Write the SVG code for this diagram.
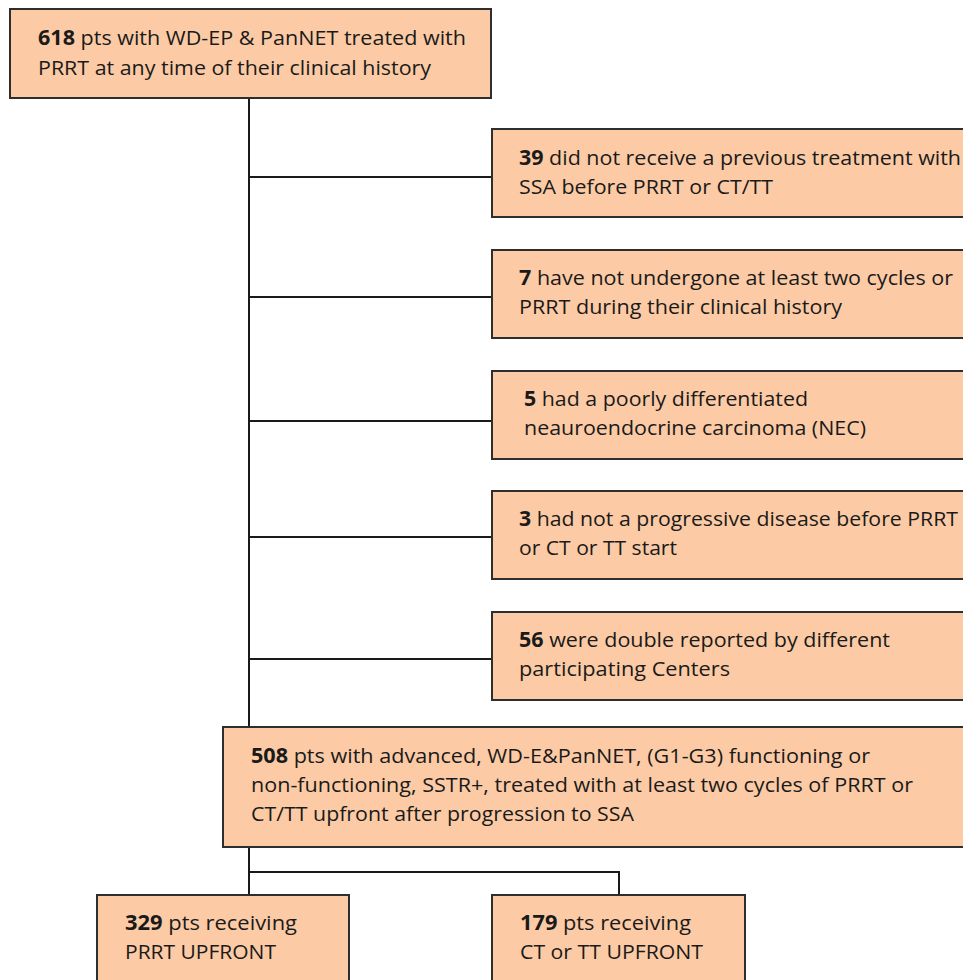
<svg xmlns="http://www.w3.org/2000/svg" width="963" height="980" viewBox="0 0 963 980">
<style>
.box{fill:#FCCBA5;stroke:#2e2e2e;stroke-width:2}
.t{font-family:"Open Sans","Noto Sans","Liberation Sans",sans-serif;font-size:20.5px;fill:#1a1a1a}
.b{font-weight:bold}
.c{fill:none;stroke:#1a1a1a;stroke-width:2}
</style>
<rect width="963" height="980" fill="#fff"/>
<g id="connectors">
<path class="c" d="M249 98V727M249 177H492M249 297H492M249 421H492M249 537H492M249 659H492"/>
<path class="c" d="M249 847V895M249 872H619V895"/>
</g>
<g id="n618">
<rect class="box" x="10" y="9" width="481" height="89"/>
<text class="t" x="38" y="45" textLength="428" lengthAdjust="spacingAndGlyphs"><tspan class="b">618</tspan> pts with WD-EP &amp; PanNET treated with</text>
<text class="t" x="38" y="75" textLength="393" lengthAdjust="spacingAndGlyphs">PRRT at any time of their clinical history</text>
</g>
<g id="n39">
<rect class="box" x="492" y="129" width="480" height="88"/>
<text class="t" x="519" y="165" textLength="442" lengthAdjust="spacingAndGlyphs"><tspan class="b">39</tspan> did not receive a previous treatment with</text>
<text class="t" x="519" y="194" textLength="254" lengthAdjust="spacingAndGlyphs">SSA before PRRT or CT/TT</text>
</g>
<g id="n7">
<rect class="box" x="492" y="250" width="480" height="88"/>
<text class="t" x="519" y="285" textLength="434" lengthAdjust="spacingAndGlyphs"><tspan class="b">7</tspan> have not undergone at least two cycles or</text>
<text class="t" x="519" y="314" textLength="323" lengthAdjust="spacingAndGlyphs">PRRT during their clinical history</text>
</g>
<g id="n5">
<rect class="box" x="492" y="371" width="480" height="88"/>
<text class="t" x="524" y="406" textLength="284" lengthAdjust="spacingAndGlyphs"><tspan class="b">5</tspan> had a poorly differentiated</text>
<text class="t" x="524" y="435" textLength="342" lengthAdjust="spacingAndGlyphs">neauroendocrine carcinoma (NEC)</text>
</g>
<g id="n3">
<rect class="box" x="492" y="491" width="480" height="88"/>
<text class="t" x="519" y="526" textLength="439" lengthAdjust="spacingAndGlyphs"><tspan class="b">3</tspan> had not a progressive disease before PRRT</text>
<text class="t" x="519" y="555" textLength="158" lengthAdjust="spacingAndGlyphs">or CT or TT start</text>
</g>
<g id="n56">
<rect class="box" x="492" y="612" width="480" height="88"/>
<text class="t" x="519" y="647" textLength="371" lengthAdjust="spacingAndGlyphs"><tspan class="b">56</tspan> were double reported by different</text>
<text class="t" x="519" y="676" textLength="211" lengthAdjust="spacingAndGlyphs">participating Centers</text>
</g>
<g id="n508">
<rect class="box" x="223" y="727" width="750" height="120"/>
<text class="t" x="251" y="763" textLength="619" lengthAdjust="spacingAndGlyphs"><tspan class="b">508</tspan> pts with advanced, WD-E&amp;PanNET, (G1-G3) functioning or</text>
<text class="t" x="251" y="792" textLength="662" lengthAdjust="spacingAndGlyphs">non-functioning, SSTR+, treated with at least two cycles of PRRT or</text>
<text class="t" x="251" y="821" textLength="383" lengthAdjust="spacingAndGlyphs">CT/TT upfront after progression to SSA</text>
</g>
<g id="n329">
<rect class="box" x="97" y="895" width="252" height="95"/>
<text class="t" x="125" y="930" textLength="172" lengthAdjust="spacingAndGlyphs"><tspan class="b">329</tspan> pts receiving</text>
<text class="t" x="125" y="959" textLength="151" lengthAdjust="spacingAndGlyphs">PRRT UPFRONT</text>
</g>
<g id="n179">
<rect class="box" x="492" y="895" width="253" height="95"/>
<text class="t" x="520" y="930" textLength="171" lengthAdjust="spacingAndGlyphs"><tspan class="b">179</tspan> pts receiving</text>
<text class="t" x="520" y="959" textLength="183" lengthAdjust="spacingAndGlyphs">CT or TT UPFRONT</text>
</g>
</svg>
